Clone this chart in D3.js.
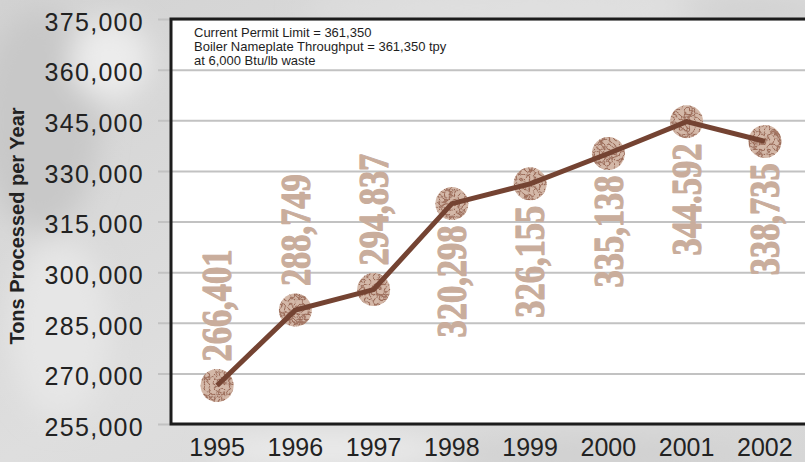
<!DOCTYPE html>
<html>
<head>
<meta charset="utf-8">
<script src="https://cdn.jsdelivr.net/npm/d3@7"></script>
<style>
  html, body { margin: 0; padding: 0; background: #dadada; }
  svg { display: block; }
</style>
</head>
<body>
<svg id="chart" width="805" height="462"></svg>
<script>
// Annual tonnage processed, 1995-2002
const years = ["1995", "1996", "1997", "1998", "1999", "2000", "2001", "2002"];
const tons = [266401, 288749, 294837, 320298, 326155, 335138, 344592, 338735];
const tonLabels = ["266,401", "288,749", "294,837", "320,298", "326,155", "335,138", "344.592", "338,735"];
const yTicks = [255000, 270000, 285000, 300000, 315000, 330000, 345000, 360000, 375000];
const notes = [
  "Current Permit Limit = 361,350",
  "Boiler Nameplate Throughput = 361,350 tpy",
  "at 6,000 Btu/lb waste"
];
const axisTitle = "Tons Processed per Year";

const W = 805, H = 462;
const plot = { left: 171, right: 806, top: 19, bottom: 424 };
const sans = "Arial, 'Liberation Sans', sans-serif";

const svg = d3.select("#chart");
const defs = svg.append("defs");

// soft grey backdrop
const bg = defs.append("linearGradient").attr("id", "bgGrad")
  .attr("x1", 0).attr("y1", 0).attr("x2", 1).attr("y2", 1);
bg.append("stop").attr("offset", 0).attr("stop-color", "#d2d2d2");
bg.append("stop").attr("offset", 0.5).attr("stop-color", "#dedede");
bg.append("stop").attr("offset", 1).attr("stop-color", "#d6d6d6");
defs.append("filter").attr("id", "soft").attr("x", "-50%").attr("y", "-50%").attr("width", "200%").attr("height", "200%")
  .append("feGaussianBlur").attr("stdDeviation", 14);

// crackled texture for the markers
const crackle = defs.append("filter").attr("id", "crackle")
  .attr("x", "-10%").attr("y", "-10%").attr("width", "120%").attr("height", "120%");
crackle.append("feTurbulence").attr("type", "turbulence").attr("baseFrequency", 0.2)
  .attr("numOctaves", 2).attr("seed", 7).attr("result", "noise");
crackle.append("feColorMatrix").attr("in", "noise").attr("type", "matrix")
  .attr("values", "0 0 0 0 0  0 0 0 0 0  0 0 0 0 0  1 0 0 0 0").attr("result", "alphaNoise");
crackle.append("feComponentTransfer").attr("in", "alphaNoise").attr("result", "veins")
  .append("feFuncA").attr("type", "table").attr("tableValues", "1 0.8 0.2 0 0 0 0 0 0 0");
crackle.append("feFlood").attr("flood-color", "#9a6854").attr("result", "ink");
crackle.append("feComposite").attr("in", "ink").attr("in2", "veins").attr("operator", "in").attr("result", "inkVeins");
crackle.append("feComposite").attr("in", "inkVeins").attr("in2", "SourceGraphic").attr("operator", "in").attr("result", "clipped");
const merge = crackle.append("feMerge");
merge.append("feMergeNode").attr("in", "SourceGraphic");
merge.append("feMergeNode").attr("in", "clipped");

svg.append("rect").attr("width", W).attr("height", H).attr("fill", "url(#bgGrad)");
const haze = svg.append("g").attr("filter", "url(#soft)");
[[40, 120, 60, 110, "#c8c8c8"], [110, 60, 40, 40, "#ececec"], [60, 330, 50, 90, "#e6e6e6"],
 [330, 450, 120, 16, "#ececec"], [600, 455, 150, 14, "#cfcfcf"], [500, 8, 200, 12, "#e2e2e2"],
 [760, 10, 80, 12, "#cdcdcd"]]
  .forEach(([cx, cy, rx, ry, c]) => haze.append("ellipse")
    .attr("cx", cx).attr("cy", cy).attr("rx", rx).attr("ry", ry).attr("fill", c));

// scales
const x = d3.scaleBand().domain(years).range([178, 804]).padding(0);
const y = d3.scaleLinear().domain([255000, 375000]).range([plot.bottom, plot.top]);
const cx = d => x(d) + x.bandwidth() / 2;

// plot area
svg.append("rect")
  .attr("x", plot.left).attr("y", plot.top)
  .attr("width", plot.right - plot.left).attr("height", plot.bottom - plot.top)
  .attr("fill", "#ffffff");

// y axis with gridlines
const gridStart = 158;
const yAxis = svg.append("g")
  .attr("transform", `translate(${gridStart},0)`)
  .call(d3.axisLeft(y).tickValues(yTicks).tickFormat(d3.format(","))
    .tickSizeInner(-(W - gridStart)).tickSizeOuter(0).tickPadding(14));
yAxis.select(".domain").remove();
yAxis.selectAll(".tick line").attr("stroke", "#c2c2c2").attr("stroke-width", 2);
yAxis.selectAll(".tick text")
  .attr("font-family", sans)
  .attr("font-size", 25).attr("letter-spacing", 1.3)
  .attr("fill", "#222").attr("dy", "0.45em");

// frame
svg.append("path")
  .attr("d", `M${plot.right},${plot.top}H${plot.left}V${plot.bottom}H${plot.right}`)
  .attr("fill", "none").attr("stroke", "#1c1c1c").attr("stroke-width", 3);

// x axis
const xAxis = svg.append("g")
  .attr("transform", `translate(0,${plot.bottom})`)
  .call(d3.axisBottom(x).tickSize(0).tickPadding(14));
xAxis.select(".domain").remove();
xAxis.selectAll(".tick text")
  .attr("font-family", sans)
  .attr("font-size", 25).attr("fill", "#222");

// axis title
svg.append("text")
  .attr("transform", `translate(24,226) rotate(-90)`)
  .attr("text-anchor", "middle")
  .attr("font-family", sans)
  .attr("font-weight", "bold").attr("font-size", 20).attr("fill", "#222")
  .text(axisTitle);

// note block
svg.append("g").selectAll("text").data(notes).join("text")
  .attr("x", 194).attr("y", (d, i) => 37 + i * 14)
  .attr("font-family", sans)
  .attr("font-size", 13).attr("fill", "#1e1e1e")
  .text(d => d);

// value labels, rotated and set in a condensed heavy serif
const series = years.map((yr, i) => ({ yr, v: tons[i], label: tonLabels[i], i }));
svg.append("g").selectAll("text").data(series).join("text")
  .attr("transform", d => {
    const py = y(d.v);
    const ty = d.i < 3 ? py - 24 : py + 22;
    return `translate(${cx(d.yr)},${ty}) rotate(-90) scale(0.82,1)`;
  })
  .attr("text-anchor", d => d.i < 3 ? "start" : "end")
  .attr("dy", "0.34em")
  .attr("font-family", "'Liberation Serif', 'Times New Roman', serif")
  .attr("font-weight", "bold").attr("font-size", 42)
  .attr("fill", "#c9ad9c").attr("stroke", "#c9ad9c").attr("stroke-width", 1.2)
  .attr("stroke-linejoin", "round")
  .text(d => d.label);

// markers
svg.append("g").selectAll("circle").data(series).join("circle")
  .attr("cx", d => cx(d.yr)).attr("cy", d => y(d.v)).attr("r", 16.5)
  .attr("fill", "#d4b8a8").attr("filter", "url(#crackle)");

// trend line
svg.append("path").datum(series)
  .attr("fill", "none").attr("stroke", "#744332").attr("stroke-width", 5)
  .attr("stroke-linejoin", "miter")
  .attr("d", d3.line().x(d => cx(d.yr)).y(d => y(d.v)));
</script>
</body>
</html>
